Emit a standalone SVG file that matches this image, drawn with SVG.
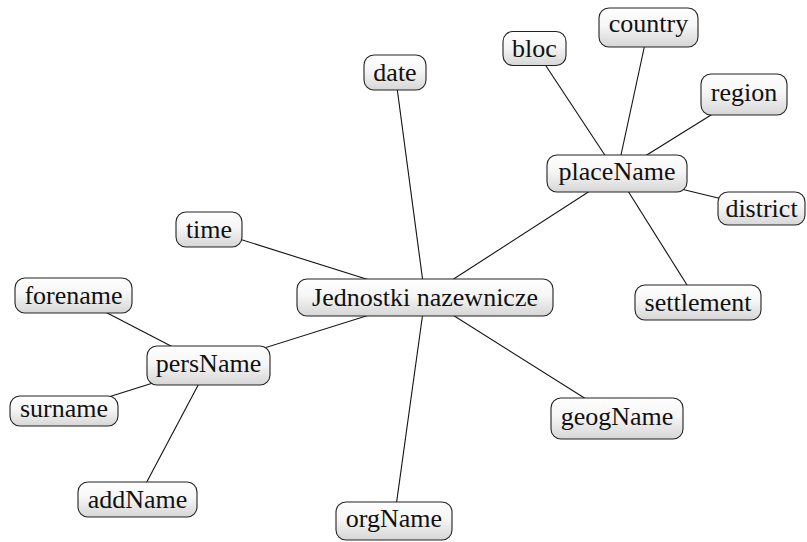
<svg xmlns="http://www.w3.org/2000/svg" width="807" height="542" viewBox="0 0 807 542">
<defs>
<linearGradient id="g" x1="0" y1="0" x2="0" y2="1">
<stop offset="0" stop-color="#ffffff"/>
<stop offset="0.45" stop-color="#f6f6f6"/>
<stop offset="1" stop-color="#d6d6d6"/>
</linearGradient>
<style>
.n rect{fill:url(#g);stroke:#222;stroke-width:1.1}
text{font-family:"Liberation Serif","Times New Roman",Times,"DejaVu Serif",serif;font-size:26px;fill:#111;text-anchor:middle}
.c line{stroke:#111;stroke-width:1.1}
</style>
</defs>
<rect width="807" height="542" fill="#fff"/>
<g id="connectors" class="c">
<line x1="425" y1="297.5" x2="395" y2="72.5"/>
<line x1="425" y1="297.5" x2="617" y2="173.5"/>
<line x1="425" y1="297.5" x2="209" y2="229.5"/>
<line x1="425" y1="297.5" x2="208.5" y2="365.5"/>
<line x1="425" y1="297.5" x2="394" y2="521"/>
<line x1="425" y1="297.5" x2="617" y2="418.5"/>
<line x1="617" y1="173.5" x2="534.5" y2="48.5"/>
<line x1="617" y1="173.5" x2="648.5" y2="27.5"/>
<line x1="617" y1="173.5" x2="744" y2="94.5"/>
<line x1="617" y1="173.5" x2="761.5" y2="208.5"/>
<line x1="617" y1="173.5" x2="698" y2="302.5"/>
<line x1="208.5" y1="365.5" x2="73.5" y2="295.5"/>
<line x1="208.5" y1="365.5" x2="64" y2="411"/>
<line x1="208.5" y1="365.5" x2="137.5" y2="499.5"/>
</g>
<g id="jednostki" class="n"><rect x="297" y="279" width="256" height="37" rx="10"/><text x="425" y="306.4" font-family="Liberation Serif, serif">Jednostki nazewnicze</text></g>
<g id="placeName" class="n"><rect x="547" y="155" width="140" height="37" rx="10"/><text x="617" y="179.6" font-family="Liberation Serif, serif">placeName</text></g>
<g id="date" class="n"><rect x="364" y="55" width="62" height="35" rx="10"/><text x="395" y="81.4" font-family="Liberation Serif, serif">date</text></g>
<g id="bloc" class="n"><rect x="503" y="31.5" width="63" height="34" rx="10"/><text x="534.5" y="57.4" font-family="Liberation Serif, serif">bloc</text></g>
<g id="country" class="n"><rect x="599" y="8" width="99" height="39" rx="10"/><text x="648.5" y="32.2" font-family="Liberation Serif, serif">country</text></g>
<g id="region" class="n"><rect x="701" y="74" width="86" height="41" rx="10"/><text x="744" y="100.6" font-family="Liberation Serif, serif">region</text></g>
<g id="district" class="n"><rect x="718" y="192" width="87" height="33" rx="10"/><text x="761.5" y="217.4" font-family="Liberation Serif, serif">district</text></g>
<g id="settlement" class="n"><rect x="635" y="285" width="126" height="35" rx="10"/><text x="698" y="311.4" font-family="Liberation Serif, serif">settlement</text></g>
<g id="time" class="n"><rect x="176" y="212" width="66" height="35" rx="10"/><text x="209" y="237.8" font-family="Liberation Serif, serif">time</text></g>
<g id="forename" class="n"><rect x="15" y="278" width="117" height="35" rx="10"/><text x="73.5" y="304.4" font-family="Liberation Serif, serif">forename</text></g>
<g id="persName" class="n"><rect x="147" y="346" width="123" height="39" rx="10"/><text x="208.5" y="371.5" font-family="Liberation Serif, serif">persName</text></g>
<g id="surname" class="n"><rect x="10" y="396" width="108" height="30" rx="10"/><text x="64" y="416.8" font-family="Liberation Serif, serif">surname</text></g>
<g id="addName" class="n"><rect x="78" y="482" width="119" height="35" rx="10"/><text x="137.5" y="508.4" font-family="Liberation Serif, serif">addName</text></g>
<g id="orgName" class="n"><rect x="336" y="502" width="116" height="38" rx="10"/><text x="394" y="527" font-family="Liberation Serif, serif">orgName</text></g>
<g id="geogName" class="n"><rect x="551" y="398" width="132" height="41" rx="10"/><text x="617" y="424.5" font-family="Liberation Serif, serif">geogName</text></g>
</svg>
